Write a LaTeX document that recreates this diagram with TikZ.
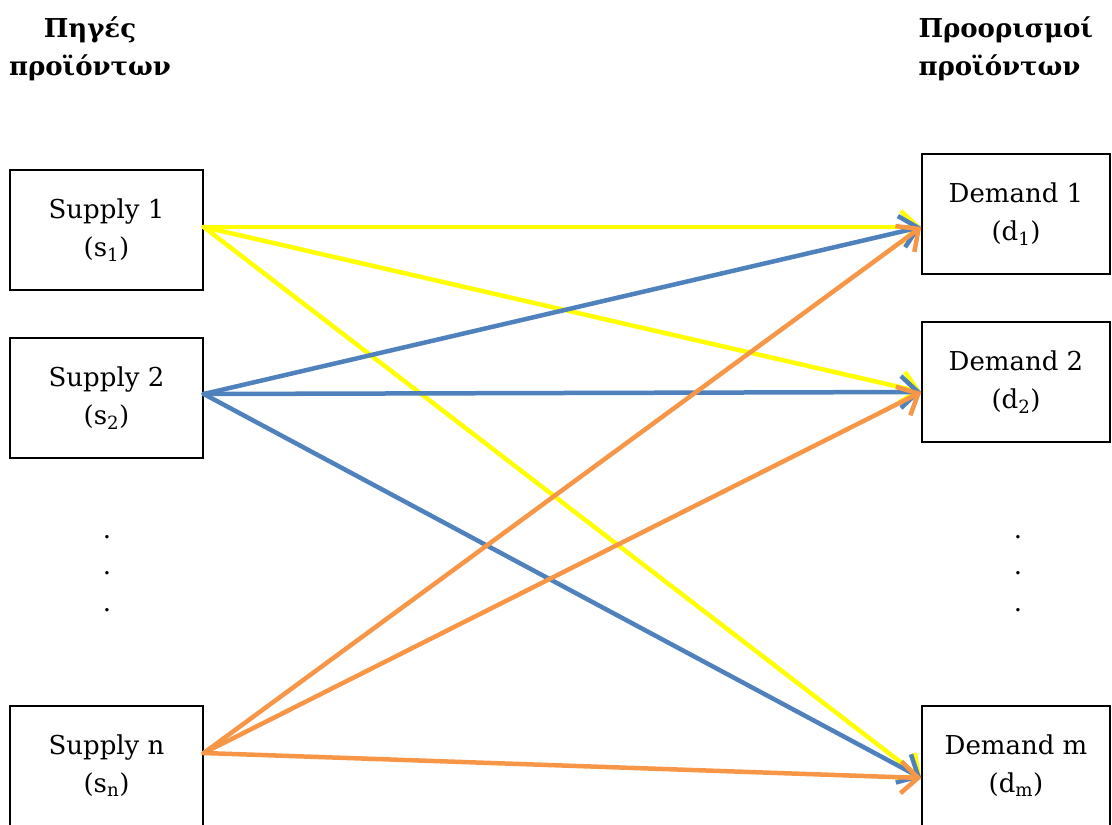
\documentclass[tikz,border=0pt]{standalone}
\usepackage{fontspec}
\setmainfont{DejaVu Serif}
\usepackage{tikz}
\usetikzlibrary{arrows.meta,positioning}
\definecolor{flowYellow}{HTML}{FFFF00}
\definecolor{flowBlue}{HTML}{4F81BD}
\definecolor{flowOrange}{HTML}{F79646}
\tikzset{
  nbox/.style={draw,line width=1.5pt,minimum width=193pt,minimum height=120pt,
    align=center,inner sep=0pt,font=\fontsize{26}{38}\selectfont},
  dbox/.style={nbox,minimum width=188pt},
  nhead/.style={align=center,font=\fontsize{26}{38}\selectfont\bfseries},
  ndot/.style={inner sep=0pt,font=\fontsize{26}{30}\selectfont},
  nflow/.style={line width=4.5pt,line cap=round,
    -{Straight Barb[length=17pt,width=32pt,line width=4.5pt]}},
  yflow/.style={nflow,draw=flowYellow},
  bflow/.style={nflow,draw=flowBlue},
  oflow/.style={nflow,draw=flowOrange},
}
\begin{document}
\begin{tikzpicture}[x=1pt,y=-1pt]
\useasboundingbox (0,0) rectangle (1112,825);
% headers
\node[nhead] (hs) at (90,49) {Πηγές\\προϊόντων};
\node[nhead,align=left,anchor=west] (hd) at (915,49) {Προορισμοί\\προϊόντων};
% supply side
\node[nbox] (s1) at (106.5,230) {Supply 1\\(s\textsubscript{1})};
\node[nbox] (s2) at (106.5,398) {Supply 2\\(s\textsubscript{2})};
\node[nbox] (sn) at (106.5,766) {Supply n\\(s\textsubscript{n})};
\node[ndot] (sd1) at (107,537) {.};
\node[ndot] (sd2) at (107,573) {.};
\node[ndot] (sd3) at (107,610) {.};
% demand side
\node[dbox] (d1) at (1016,214) {Demand 1\\(d\textsubscript{1})};
\node[dbox] (d2) at (1016,382) {Demand 2\\(d\textsubscript{2})};
\node[dbox] (dm) at (1016,766) {Demand m\\(d\textsubscript{m})};
\node[ndot] (dd1) at (1018,537) {.};
\node[ndot] (dd2) at (1018,573) {.};
\node[ndot] (dd3) at (1018,610) {.};
% ports
\coordinate (s1o) at ([yshift=3pt]s1.east);
\coordinate (s2o) at ([yshift=4pt]s2.east);
\coordinate (sno) at ([yshift=13pt]sn.east);
\coordinate (d1i) at ([yshift=-13pt]d1.west);
\coordinate (d2i) at ([yshift=-10pt]d2.west);
\coordinate (dmi) at ([yshift=-12pt]dm.west);
% flows
\draw[yflow] (s1o) -- (d1i);
\draw[yflow] (s1o) -- (d2i);
\draw[yflow] (s1o) -- (dmi);
\draw[bflow] (s2o) -- (d1i);
\draw[bflow] (s2o) -- (d2i);
\draw[bflow] (s2o) -- (dmi);
\draw[oflow] (sno) -- (d1i);
\draw[oflow] (sno) -- (d2i);
\draw[oflow] (sno) -- (dmi);
\end{tikzpicture}
\end{document}
